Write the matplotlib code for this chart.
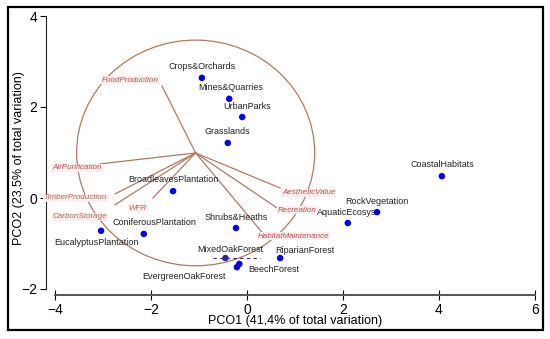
import matplotlib
matplotlib.use('Agg')
import matplotlib.pyplot as plt
from matplotlib.patches import Ellipse, Rectangle
import numpy as np

plt.rcParams['font.family'] = ['Liberation Sans', 'DejaVu Sans']

# sample scores (PCO1, PCO2)
sites = ['Crops&Orchards', 'Mines&Quarries', 'UrbanParks', 'Grasslands',
         'BroadleavesPlantation', 'CoastalHabitats', 'RockVegetation', 'AquaticEcosys',
         'Shrubs&Heaths', 'ConiferousPlantation', 'EucalyptusPlantation', 'MixedOakForest',
         'EvergreenOakForest', 'BeechForest', 'RiparianForest']
pco1 = [-0.94, -0.37, -0.10, -0.40, -1.54, 4.06, 2.71, 2.10,
        -0.23, -2.15, -3.04, -0.45, -0.21, -0.16, 0.69]
pco2 = [2.64, 2.18, 1.78, 1.21, 0.15, 0.48, -0.31, -0.55,
        -0.66, -0.79, -0.72, -1.32, -1.52, -1.45, -1.32]

# vector overlay (ecosystem services)
services = ['FoodProduction', 'AirPurification', 'TimberProduction', 'CarbonStorage',
            'WFR', 'AestheticValue', 'Recreation', 'HabitatMaintenance']
vec_x = [-1.77, -3.06, -2.75, -2.75, -1.96, 0.69, 0.63, 0.31]
vec_y = [2.46, 0.75, 0.09, -0.15, 0.00, 0.22, -0.22, -0.75]
origin = (-1.07, 0.99)
radius = 2.48

# label offsets in pixels
site_off = [(0, 11), (1, 11), (5, 11), (0, 11), (0, 12), (0, 12), (0, 11), (-1, 11),
            (0, 11), (11, 11), (-5, -12), (5, 9), (-53, -9), (34, -6), (25, 8)]
vec_off = [(-3, 6, 'right'), (2, -4, 'right'), (-8, -4, 'right'), (-8, -12, 'right'),
           (-6, -10, 'right'), (2, -5, 'left'), (1, -2, 'left'), (-4, -4, 'left')]
red_txt = '#c0504d'
brn_txt = '#b36b4f'
vec_col = [red_txt, red_txt, brn_txt, brn_txt, brn_txt, red_txt, red_txt, red_txt]

fig = plt.figure(figsize=(5.5, 3.39), dpi=100)
ax = fig.add_axes([40 / 550, 39 / 339, 500 / 550, 290 / 339])
ax.set_xlim((40 - 247) / 48, (540 - 247) / 48)
ax.set_ylim((198 - 300) / 45.5, (198 - 10) / 45.5)

brown = '#b07a62'

# circle
ax.add_patch(Ellipse(origin, 2 * radius, 2 * radius, fill=False, ec=brown, lw=0.9, zorder=1))

# vectors
for name, vx, vy, (dx, dy, ha), c in zip(services, vec_x, vec_y, vec_off, vec_col):
    ax.plot([origin[0], vx], [origin[1], vy], color=brown, lw=0.9, zorder=2)
    ax.annotate(name, (vx, vy), xytext=(dx, dy), textcoords='offset pixels',
                ha=ha, va='center', fontsize=5.8, style='italic', color=c,
                bbox=dict(boxstyle='square,pad=0.1', fc='#fdeef0', ec='none'), zorder=3)

# points
cols = ['#0000ee'] * len(sites)
cols[sites.index('MixedOakForest')] = '#2a2a8a'
ax.scatter(pco1, pco2, s=22, c=cols, zorder=5, linewidths=0)
i = sites.index('MixedOakForest')
ax.plot([pco1[i] - 0.25, pco1[i] + 0.73], [pco2[i], pco2[i]], color='#2a2a8a',
        lw=0.8, ls=(0, (3, 3)), zorder=4)
for name, x, y, (dx, dy) in zip(sites, pco1, pco2, site_off):
    ax.annotate(name, (x, y), xytext=(dx, dy), textcoords='offset pixels',
                ha='center', va='center', fontsize=6.5, color='#222222', zorder=4)

# axes styling
for s in ['top', 'right']:
    ax.spines[s].set_visible(False)
ax.spines['left'].set_position(('data', -4.19))
ax.spines['left'].set_bounds(-2, 4)
ax.spines['bottom'].set_position(('data', -2.13))
ax.spines['bottom'].set_bounds(-4, 6)
ax.spines['left'].set_color('#222222')
ax.spines['bottom'].set_color('#555555')
ax.spines['bottom'].set_linewidth(1.4)
ax.set_xticks([-4, -2, 0, 2, 4, 6])
ax.set_yticks([-2, 0, 2, 4])
ax.tick_params(axis='x', direction='inout', length=7, labelsize=10, pad=2)
ax.tick_params(axis='y', direction='out', length=4, labelsize=10, pad=2)
ax.set_xlabel('PCO1 (41,4% of total variation)', fontsize=9)
ax.set_ylabel('PCO2 (23,5% of total variation)', fontsize=9)
ax.xaxis.set_label_coords(0.51, -0.052)
ax.yaxis.set_label_coords(-0.03, 0.49)

fig.add_artist(Rectangle((8 / 550, 9 / 339), 535 / 550, 323 / 339, transform=fig.transFigure,
                         fill=False, ec='black', lw=1.6))

fig.savefig('out.png', dpi=100)
